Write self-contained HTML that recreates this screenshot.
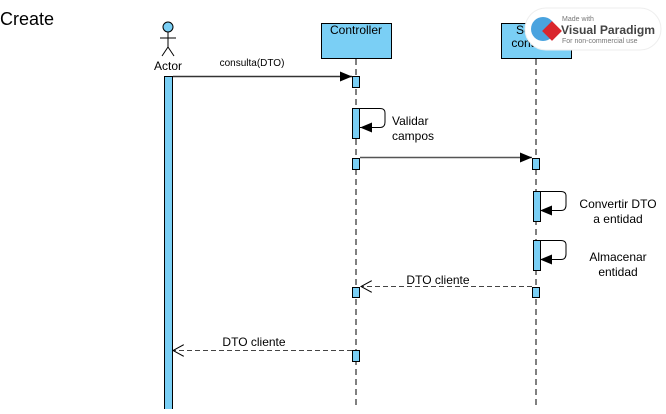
<!DOCTYPE html>
<html><head><style>body{margin:0;background:#fff;width:666px;height:409px;overflow:hidden}</style></head><body>
<svg width="666" height="409" xmlns="http://www.w3.org/2000/svg" font-family="Liberation Sans, sans-serif">
<defs>
<marker id="f" markerWidth="12" markerHeight="10" refX="12" refY="5" orient="auto" markerUnits="userSpaceOnUse"><path d="M0,0L12,5L0,10z" fill="#000"/></marker>
<marker id="o" markerWidth="12" markerHeight="12" refX="11" refY="6" orient="auto" markerUnits="userSpaceOnUse"><path d="M0,0L11,6L0,12" fill="none" stroke="#000"/></marker>
</defs>
<text x="0" y="25" font-size="18" fill="#000">Create</text>
<!-- actor -->
<circle cx="168" cy="27" r="5" fill="#7acff5" stroke="#000"/>
<line x1="168" y1="32" x2="168" y2="47" stroke="#000"/>
<line x1="160" y1="38" x2="176" y2="38" stroke="#000"/>
<line x1="168" y1="47" x2="162" y2="56" stroke="#000"/>
<line x1="168" y1="47" x2="174" y2="56" stroke="#000"/>
<text x="168" y="70" font-size="12" text-anchor="middle">Actor</text>
<rect x="164.5" y="76.5" width="8" height="333" fill="#7acff5" stroke="#000"/>
<!-- lifelines -->
<rect x="321.5" y="23.5" width="70" height="35" fill="#7acff5" stroke="#000"/>
<text x="356" y="34" font-size="12" text-anchor="middle">Controller</text>
<line x1="356" y1="59" x2="356" y2="409" stroke="#000" stroke-dasharray="6,4"/>
<rect x="501.5" y="23.5" width="70" height="35" fill="#7acff5" stroke="#000"/>
<text x="536" y="34" font-size="12" text-anchor="middle">Service</text>
<text x="536" y="47" font-size="12" text-anchor="middle">controller</text>
<line x1="536" y1="59" x2="536" y2="409" stroke="#000" stroke-dasharray="6,4"/>
<!-- activations -->
<g fill="#7acff5" stroke="#000">
<rect x="352.5" y="76.5" width="7" height="11"/>
<rect x="352.5" y="108.5" width="7" height="30"/>
<rect x="352.5" y="158.5" width="7" height="11"/>
<rect x="532.5" y="158.5" width="7" height="11"/>
<rect x="533.5" y="191.5" width="7" height="30"/>
<rect x="533.5" y="240.5" width="7" height="30"/>
<rect x="352.5" y="287.5" width="7" height="10"/>
<rect x="532.5" y="287.5" width="7" height="10"/>
<rect x="352.5" y="350.5" width="7" height="11"/>
</g>
<!-- messages -->
<line x1="173" y1="76.5" x2="352" y2="76.5" stroke="#333" stroke-width="1.5" marker-end="url(#f)"/>
<text x="252" y="66" font-size="10" text-anchor="middle">consulta(DTO)</text>
<path d="M360,108.5H380Q385,108.5 385,113V122Q385,127.5 380,127.5H360" fill="none" stroke="#000" marker-end="url(#f)"/>
<text x="392" y="125" font-size="12">Validar</text>
<text x="392" y="140" font-size="12">campos</text>
<line x1="360" y1="157.5" x2="532" y2="157.5" stroke="#555" stroke-width="1.5" marker-end="url(#f)"/>
<path d="M540,191.5H561Q566,191.5 566,196V205Q566,210.5 561,210.5H540" fill="none" stroke="#000" marker-end="url(#f)"/>
<text x="618" y="208" font-size="12" text-anchor="middle">Convertir DTO</text>
<text x="618" y="223" font-size="12" text-anchor="middle">a entidad</text>
<path d="M540,240.5H561Q566,240.5 566,245V254Q566,259.5 561,259.5H540" fill="none" stroke="#000" marker-end="url(#f)"/>
<text x="618" y="261" font-size="12" text-anchor="middle">Almacenar</text>
<text x="618" y="276" font-size="12" text-anchor="middle">entidad</text>
<line x1="532" y1="286.5" x2="361" y2="286.5" stroke="#444" stroke-dasharray="5,3" marker-end="url(#o)"/>
<text x="438" y="284" font-size="12" text-anchor="middle">DTO cliente</text>
<line x1="352" y1="350.5" x2="173" y2="350.5" stroke="#444" stroke-dasharray="5,3" marker-end="url(#o)"/>
<text x="254" y="346" font-size="12" text-anchor="middle">DTO cliente</text>
<!-- watermark -->
<rect x="525" y="8" width="136" height="42" rx="21" fill="#fff" stroke="#eee"/>
<circle cx="543" cy="29" r="12" fill="#4aa3df"/>
<rect x="545" y="24" width="14" height="14" fill="#d9262e" transform="rotate(45 552 31)"/>
<text x="562" y="21" font-size="7" fill="#777">Made with</text>
<text x="561" y="34" font-size="12" font-weight="bold" fill="#444" textLength="94" lengthAdjust="spacingAndGlyphs">Visual Paradigm</text>
<text x="562" y="43" font-size="7" fill="#777">For non-commercial use</text>
</svg>
</body></html>
